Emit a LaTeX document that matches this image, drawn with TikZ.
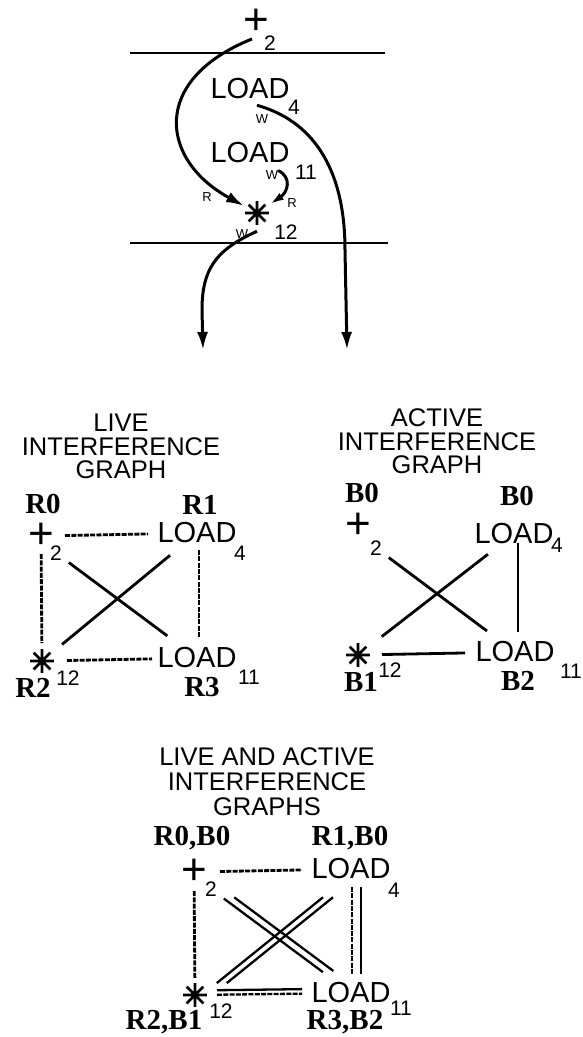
\documentclass[tikz,border=0pt]{standalone}
\usepackage{fontspec}
\setmainfont{Liberation Sans}
\newfontfamily\regfont{Liberation Serif}
\newfontfamily\starfont[FakeBold=3.5]{DejaVu Sans}
\usetikzlibrary{arrows.meta}
\usetikzlibrary{calc}

\begin{document}
\begin{tikzpicture}[x=1pt, y=-1pt,
    every node/.style={inner sep=0pt, outer sep=0pt},
    op/.style={font=\fontsize{29}{29}\selectfont},
    plus/.style={font=\fontsize{44}{44}\selectfont, text height=25.9pt, text depth=-5.2pt},
    star/.style={font=\starfont\fontsize{31}{31}\selectfont},
    sub/.style={font=\fontsize{21}{21}\selectfont},
    reg/.style={font=\regfont\bfseries\fontsize{29}{29}\selectfont, text depth=0pt},
    rw/.style={font=\fontsize{13}{13}\selectfont},
    title/.style={font=\fontsize{25.5}{23.5}\selectfont, align=center},
    live/.style={line width=2.8pt, dash pattern=on 5pt off 1.3pt},
    act/.style={line width=2.8pt},
    flow/.style={line width=3pt, -{Latex[length=18pt,width=11pt]}},
    bar/.style={line width=2.8pt}]

  \useasboundingbox (0,0) rectangle (582,1037);

  % data flow of the block
  \node[plus] (tplus) at (256,22) {+};
  \node[sub] (t2) at (270,43) {2};
  \node[op] (tload4) at (250,89) {LOAD};
  \node[sub] (t4) at (294,107) {4};
  \node[rw] (tw1) at (262,119) {W};
  \node[op] (tload11) at (250,153) {LOAD};
  \node[sub] (t11) at (306,172) {11};
  \node[rw] (tw2) at (272,175) {W};
  \node[rw] (tr1) at (207,197) {R};
  \node[rw] (tr2) at (292,203) {R};
  \node[star] (tstar) at (257,213) {✳};
  \node[sub] (t12) at (286,232) {12};
  \node[rw] (tw3) at (242,234) {W};

  \draw[bar] (130,53) -- (385,53);
  \draw[bar] (130,243) -- (388,243);

  \coordinate (outL) at (203,350);
  \coordinate (outR) at (347,350);

  \draw[flow] ($(tplus.south)+(-4,4)$) .. controls (150,80) and (160,160) .. (tstar);
  \draw[flow] ($(tload4.south)+(7,6)$) .. controls (310,120) and (345,165) .. (345,250) -- (outR);
  \draw[flow, -{Latex[length=14pt,width=8pt]}] (tw2.north east) .. controls (292,177) and (288,192) .. (tstar);
  \draw[flow] ($(tstar.south)+(0,7)$) .. controls (215,250) and (202,270) .. (202,310) -- (outL);

  % live graph
  \node[title] (livetitle) at (121,446.5) {LIVE\\INTERFERENCE\\GRAPH};
  \node[reg] (lr0) at (43,504) {R0};
  \node[reg] (lr1) at (200,505) {R1};
  \node[plus] (lplus) at (41,536) {+};
  \node[sub] (l2) at (56,553) {2};
  \node[op] (lload4) at (197,533) {LOAD};
  \node[sub] (l4) at (240,553) {4};
  \node[star] (lstar) at (42,661) {✳};
  \node[sub] (l12) at (68,678) {12};
  \node[reg] (lr2) at (33,688) {R2};
  \node[op] (lload11) at (197,658) {LOAD};
  \node[reg] (lr3) at (202,687) {R3};
  \node[sub] (l11) at (249,677) {11};

  \draw[live, shorten <=24pt, shorten >=49pt] (lplus.center) -- (lload4.center);
  \draw[live, shorten <=18pt, shorten >=18pt] (lplus.center) -- (lstar.center);
  \draw[live, shorten <=17pt, shorten >=20pt] ([xshift=2pt]lload4.center) -- ([xshift=2pt]lload11.center);
  \draw[act, shorten <=16pt, shorten >=37pt] (l2.center) -- (lload11.center);
  \draw[act, shorten <=35pt, shorten >=26pt] (lload4.center) -- (lstar.center);
  \draw[live, shorten <=25pt, shorten >=45pt] (lstar.center) -- (lload11.center);

  % active graph
  \node[title] (acttitle) at (437,441.5) {ACTIVE\\INTERFERENCE\\GRAPH};
  \node[reg] (ab0) at (362,493) {B0};
  \node[reg] (ab0r) at (517,496) {B0};
  \node[plus] (aplus) at (358,526) {+};
  \node[sub] (a2) at (376,548) {2};
  \node[op] (aload4) at (514,534) {LOAD};
  \node[sub] (a4) at (557,545) {4};
  \node[star] (astar) at (358,655) {✳};
  \node[reg] (ab1) at (361,682) {B1};
  \node[sub] (a12) at (390,670) {12};
  \node[op] (aload11) at (515,652) {LOAD};
  \node[reg] (ab2) at (518,681) {B2};
  \node[sub] (a11) at (571,671) {11};

  \draw[act, shorten <=16pt, shorten >=35pt] (a2.center) -- (aload11.center);
  \draw[act, shorten <=33pt, shorten >=30pt] (aload4.center) -- (astar.center);
  \draw[act, shorten <=9pt, shorten >=20pt] ([xshift=4pt]aload4.center) -- ([xshift=3pt]aload11.center);
  \draw[act, shorten <=24pt, shorten >=50pt] (astar.center) -- (aload11.center);

  % both graphs together
  \node[title, font=\fontsize{25.5}{25}\selectfont] (bothtitle) at (267,782) {LIVE AND ACTIVE\\INTERFERENCE\\GRAPHS};
  \node[reg] (cr0) at (192,836) {R0,B0};
  \node[reg] (cr1) at (350,836) {R1,B0};
  \node[plus] (cplus) at (194,872) {+};
  \node[sub] (c2) at (211,889) {2};
  \node[op] (cload4) at (351,869) {LOAD};
  \node[sub] (c4) at (394,890) {4};
  \node[star] (cstar) at (195,995) {✳};
  \node[reg] (cr2) at (164,1020) {R2,B1};
  \node[sub] (c12) at (221,1011) {12};
  \node[op] (cload11) at (351,993) {LOAD};
  \node[reg] (cr3) at (345,1020) {R3,B2};
  \node[sub] (c11) at (401,1008) {11};

  \draw[live, shorten <=26pt, shorten >=49pt] (cplus.center) -- (cload4.center);
  \draw[live, shorten <=19pt, shorten >=17pt] (cplus.center) -- (cstar.center);
  \draw[live, line width=2.3pt, shorten <=18pt, shorten >=19pt] ([xshift=1pt]cload4.center) -- ([xshift=1pt]cload11.center);
  \draw[act, line width=2.3pt, shorten <=18pt, shorten >=19pt] ([xshift=10pt]cload4.center) -- ([xshift=10pt]cload11.center);
  \draw[act, line width=2.3pt, shorten <=22pt, shorten >=49pt] ([yshift=4.5pt]cstar.center) -- ([yshift=4.5pt]cload11.center);
  \draw[live, line width=2.3pt, shorten <=22pt, shorten >=49pt] (cstar.center) -- (cload11.center);
  \draw[act, line width=2.3pt, shorten <=16pt, shorten >=35pt] (c2.center) -- (cload11.center);
  \draw[act, line width=2.3pt, shorten <=14pt, shorten >=37pt] ([xshift=12pt]c2.center) -- ([xshift=12pt]cload11.center);
  \draw[act, line width=2.3pt, shorten <=45pt, shorten >=19pt] ([xshift=7pt]cload4.center) -- ([xshift=7pt]cstar.center);
  \draw[act, line width=2.3pt, shorten <=45pt, shorten >=19pt] ([xshift=17pt]cload4.center) -- ([xshift=17pt]cstar.center);

\end{tikzpicture}
\end{document}
